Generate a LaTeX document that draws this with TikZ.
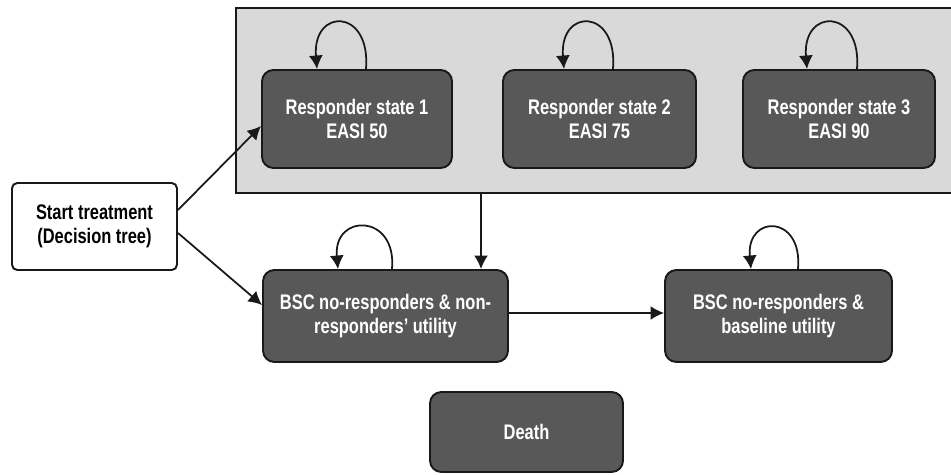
\documentclass[tikz,border=0pt]{standalone}
\usepackage{fontspec}
\setmainfont{Liberation Sans}
\newfontfamily\narrowsans[FakeStretch=0.78]{Liberation Sans}
\usepackage{tikz}
\usetikzlibrary{arrows.meta,positioning}
\definecolor{stgray}{RGB}{88,88,88}
\definecolor{panelgray}{RGB}{217,217,217}
\definecolor{lineblack}{RGB}{25,25,25}

\begin{document}
\begin{tikzpicture}[
  statebox/.style={rectangle, rounded corners=6.5pt, draw=lineblack, fill=stgray, line width=1.1pt,
    text=white, font=\narrowsans\fontsize{12}{13.6}\selectfont\bfseries, align=center},
  startbox/.style={rectangle, rounded corners=3pt, draw=lineblack, fill=white, line width=1.1pt,
    text=black, font=\narrowsans\fontsize{12}{13.6}\selectfont\bfseries, align=center},
  arr/.style={-{Latex[length=2.7mm,width=2.8mm]}, lineblack, line width=1pt}
]
\useasboundingbox (0,0) rectangle (19.02,9.5);
% Responder panel
\node[rectangle, draw=lineblack, fill=panelgray, line width=1.1pt, minimum width=14.32cm, minimum height=3.7cm] (panel) at (11.88,7.49) {};

% Responder states
\node[statebox, minimum width=3.8cm, minimum height=1.96cm] (r1) at (7.14,7.12) {Responder state 1\\EASI 50};
\node[statebox, minimum width=3.86cm, minimum height=1.96cm] (r2) at (11.99,7.12) {Responder state 2\\EASI 75};
\node[statebox, minimum width=3.84cm, minimum height=1.96cm] (r3) at (16.78,7.12) {Responder state 3\\EASI 90};

% Start and BSC states
\node[startbox, minimum width=3.3cm, minimum height=1.74cm] (start) at (1.89,4.97) {Start treatment\\(Decision tree)};
\node[statebox, minimum width=4.9cm, minimum height=1.84cm] (bsc1) at (7.71,3.18) {BSC no-responders \& non-\\responders’ utility};
\node[statebox, minimum width=4.54cm, minimum height=1.84cm] (bsc2) at (15.57,3.18) {BSC no-responders \&\\baseline utility};
\node[statebox, minimum width=3.86cm, minimum height=1.6cm] (death) at (10.53,0.86) {Death};

% Self loops
\foreach \n/\r/\l/\h in {r1/0.18/-0.8/1.23, r2/0.27/-0.71/1.23, r3/0.36/-0.64/1.23, bsc1/0.13/-0.95/1.12, bsc2/0.39/-0.55/1.1} {
  \draw[arr] ([xshift=\r cm]\n.north) .. controls +(0.1,\h) and +(-0.1,\h) .. ([xshift=\l cm]\n.north);
}

% Transitions
\draw[arr] ([yshift=0.33cm]start.east) -- ([yshift=-0.14cm]r1.west);
\draw[arr] ([yshift=-0.13cm]start.east) -- ([yshift=0.22cm]bsc1.west);
\draw[arr] ([xshift=1.91cm]bsc1.north |- panel.south) -- ([xshift=1.91cm]bsc1.north);
\draw[arr] ([yshift=0.06cm]bsc1.east) -- ([yshift=0.06cm]bsc2.west);
\end{tikzpicture}
\end{document}
